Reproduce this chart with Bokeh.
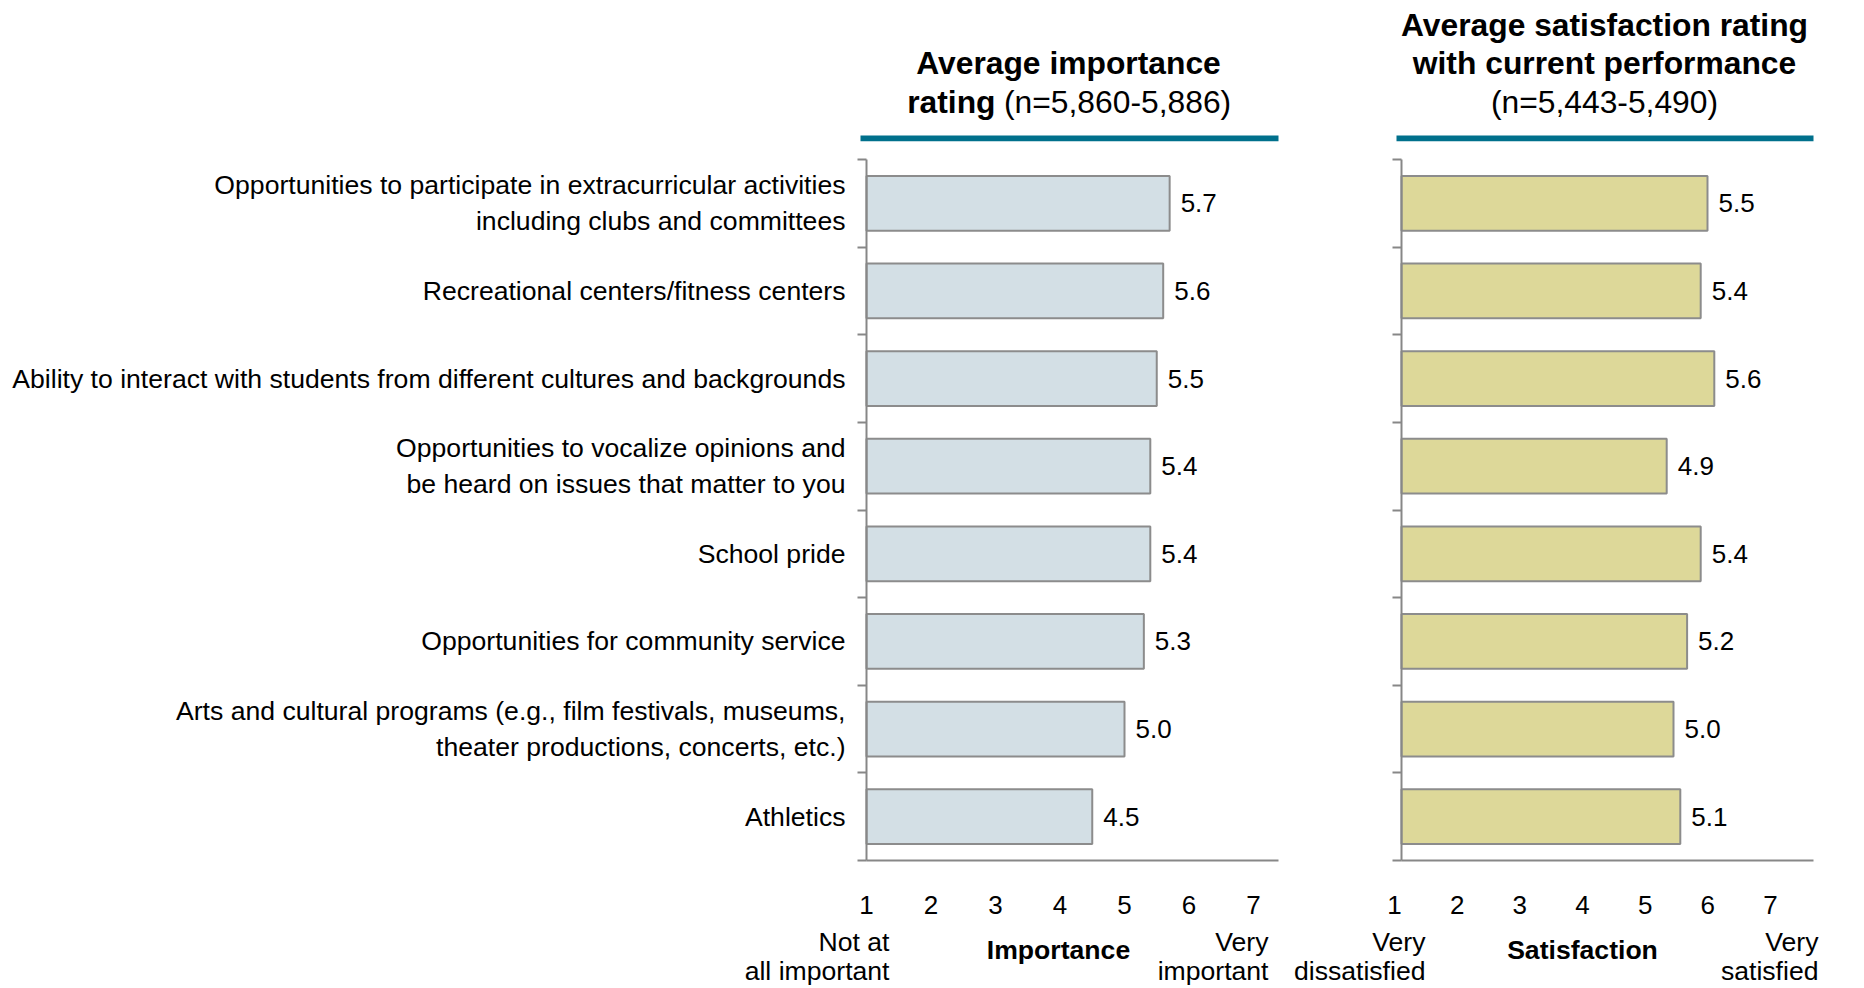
from bokeh.plotting import figure
from bokeh.layouts import row
from bokeh.models import Range1d, FixedTicker, Label, BoxAnnotation, LinearAxis
from bokeh.core.properties import value
from bokeh.embed import file_html
from bokeh.resources import INLINE

# ---------------- data ----------------
categories = [
    "Opportunities to participate in extracurricular activities\nincluding clubs and committees",
    "Recreational centers/fitness centers",
    "Ability to interact with students from different cultures and backgrounds",
    "Opportunities to vocalize opinions and\nbe heard on issues that matter to you",
    "School pride",
    "Opportunities for community service",
    "Arts and cultural programs (e.g., film festivals, museums,\ntheater productions, concerts, etc.)",
    "Athletics",
]
importance = [5.7, 5.6, 5.5, 5.4, 5.4, 5.3, 5.0, 4.5]
satisfaction = [5.5, 5.4, 5.6, 4.9, 5.4, 5.2, 5.0, 5.1]
scale_ticks = [1, 2, 3, 4, 5, 6, 7]

imp_title = ["Average importance", "rating", "(n=5,860-5,886)"]
sat_title = ["Average satisfaction rating", "with current performance", "(n=5,443-5,490)"]
imp_axis = ["Not at", "all important", "Importance", "Very", "important"]
sat_axis = ["Very", "dissatisfied", "Satisfaction", "Very", "satisfied"]

# ---------------- style / geometry ----------------
FONT = "Liberation Sans"
GRAY = "#878787"
TEAL = "#00708C"
IMP_FILL = "#D3DFE5"
SAT_FILL = "#DDD899"
BAR_LINE = "#8C8C8C"
FS_PX = 26.6
TFS_PX = 31.8
FS = f"{FS_PX}px"
NFS = "26px"
TFS = f"{TFS_PX}px"

H = 988          # canvas height
TOP = 159        # top of the category band (px from top)
ROW = 87.625     # px per category
n = len(categories)
ypos = list(range(1, n + 1))
bounds = [i + 0.5 for i in range(0, n + 1)]
Y_RANGE = (0.5 + (H - TOP) / ROW, 0.5 - TOP / ROW)


def base_fig(width, x_range):
    p = figure(width=width, height=H, x_range=x_range,
               y_range=Range1d(*Y_RANGE),
               x_axis_location=None, y_axis_location=None,
               output_backend="svg", toolbar_location=None, min_border=0)
    p.xgrid.visible = False
    p.ygrid.visible = False
    p.outline_line_color = None
    p.background_fill_color = "white"
    p.border_fill_color = "white"
    return p


def add_yaxis(p, labels):
    ax = LinearAxis(fixed_location=1, bounds=(0.5, n + 0.5))
    ax.ticker = FixedTicker(ticks=ypos, minor_ticks=bounds)
    ax.axis_line_color = GRAY
    ax.axis_line_width = 2
    ax.major_tick_out = 0
    ax.major_tick_in = 0
    ax.minor_tick_out = 9
    ax.minor_tick_in = 0
    ax.minor_tick_line_color = GRAY
    ax.minor_tick_line_width = 2
    if labels:
        ax.major_label_overrides = {y: c for y, c in zip(ypos, categories)}
        ax.major_label_standoff = 12
        ax.major_label_text_font = FONT
        ax.major_label_text_font_size = FS
        ax.major_label_text_color = "black"
    else:
        ax.major_label_text_font_size = "0px"
        ax.major_label_text_color = None
    p.add_layout(ax, "left")


def add_xaxis(p, line_bounds, labels, range_name="default", line=True):
    ax = LinearAxis(fixed_location=n + 0.5, x_range_name=range_name, bounds=line_bounds)
    ax.ticker = FixedTicker(ticks=scale_ticks if labels else [])
    ax.axis_line_color = GRAY if line else None
    ax.axis_line_width = 2
    ax.major_tick_out = 0
    ax.major_tick_in = 0
    ax.minor_tick_out = 0
    ax.minor_tick_in = 0
    ax.major_label_text_font = FONT
    ax.major_label_text_font_size = NFS
    ax.major_label_text_color = "black"
    ax.major_label_standoff = 35
    p.add_layout(ax, "below")


def lab(p, x, baseline, text, align="center", bold=False, size=FS_PX):
    # text box centred vertically; convert the wanted baseline (px from top)
    center = baseline - 0.3465 * size
    p.add_layout(Label(x=x, y=H - center, x_units="screen", y_units="screen", text=text,
                       text_align=align, text_baseline="middle",
                       text_font=FONT, text_font_size=f"{size}px",
                       text_font_style="bold" if bold else "normal",
                       text_color="black"))


def teal(p, left, right):
    p.add_layout(BoxAnnotation(left=left, right=right, top=H - 135, bottom=H - 140.7,
                               left_units="screen", right_units="screen",
                               top_units="screen", bottom_units="screen",
                               fill_color=TEAL, fill_alpha=1, line_color=None))


def bars(p, vals, fill):
    p.hbar(y=ypos, left=1, right=vals, height=0.625, fill_color=fill,
           line_color=BAR_LINE, line_width=2)
    p.text(x=vals, y=ypos, text=[f"{v:.1f}" for v in vals], x_offset=11,
           text_align="left", text_baseline="middle", text_font=value(FONT),
           text_font_size=NFS, text_color="black")


# ---------------- importance panel ----------------
W1, X0_1, S1 = 1290, 866, 64.5
p1 = base_fig(W1, Range1d(1 - X0_1 / S1, 1 + (W1 - X0_1) / S1))
bars(p1, importance, IMP_FILL)
add_yaxis(p1, True)
add_xaxis(p1, (1, 1 + 412 / S1), True)

teal(p1, 860, 1278)
lab(p1, 1068, 74, imp_title[0], bold=True, size=TFS_PX)
lab(p1, 995, 113, imp_title[1], align="right", bold=True, size=TFS_PX)
lab(p1, 1003.5, 113, imp_title[2], align="left", size=TFS_PX)
lab(p1, 889, 951, imp_axis[0], align="right")
lab(p1, 889, 980, imp_axis[1], align="right")
lab(p1, 1058, 958.5, imp_axis[2], bold=True)
lab(p1, 1268, 951, imp_axis[3], align="right")
lab(p1, 1268, 980, imp_axis[4], align="right")

# ---------------- satisfaction panel ----------------
W2, X0_2, S2 = 574, 111, 68.0
p2 = base_fig(W2, Range1d(1 - X0_2 / S2, 1 + (W2 - X0_2) / S2))
L0, SL = 104, 62.67
p2.extra_x_ranges = {"lab": Range1d(1 - L0 / SL, 1 + (W2 - L0) / SL)}
bars(p2, satisfaction, SAT_FILL)
add_yaxis(p2, False)
add_xaxis(p2, (1, 1 + 412 / S2), False)
add_xaxis(p2, (0.9, 7.1), True, range_name="lab", line=False)

OX = 1290
teal(p2, 1396 - OX, 1813 - OX)
lab(p2, 1604 - OX, 36, sat_title[0], bold=True, size=TFS_PX)
lab(p2, 1604 - OX, 74, sat_title[1], bold=True, size=TFS_PX)
lab(p2, 1604 - OX, 113, sat_title[2], size=TFS_PX)
lab(p2, 1425 - OX, 951, sat_axis[0], align="right")
lab(p2, 1425 - OX, 980, sat_axis[1], align="right")
lab(p2, 1582 - OX, 958.5, sat_axis[2], bold=True)
lab(p2, 1818 - OX, 951, sat_axis[3], align="right")
lab(p2, 1818 - OX, 980, sat_axis[4], align="right")

layout = row(p1, p2)
open("out.html", "w").write(file_html(layout, INLINE, title="Importance and satisfaction"))
